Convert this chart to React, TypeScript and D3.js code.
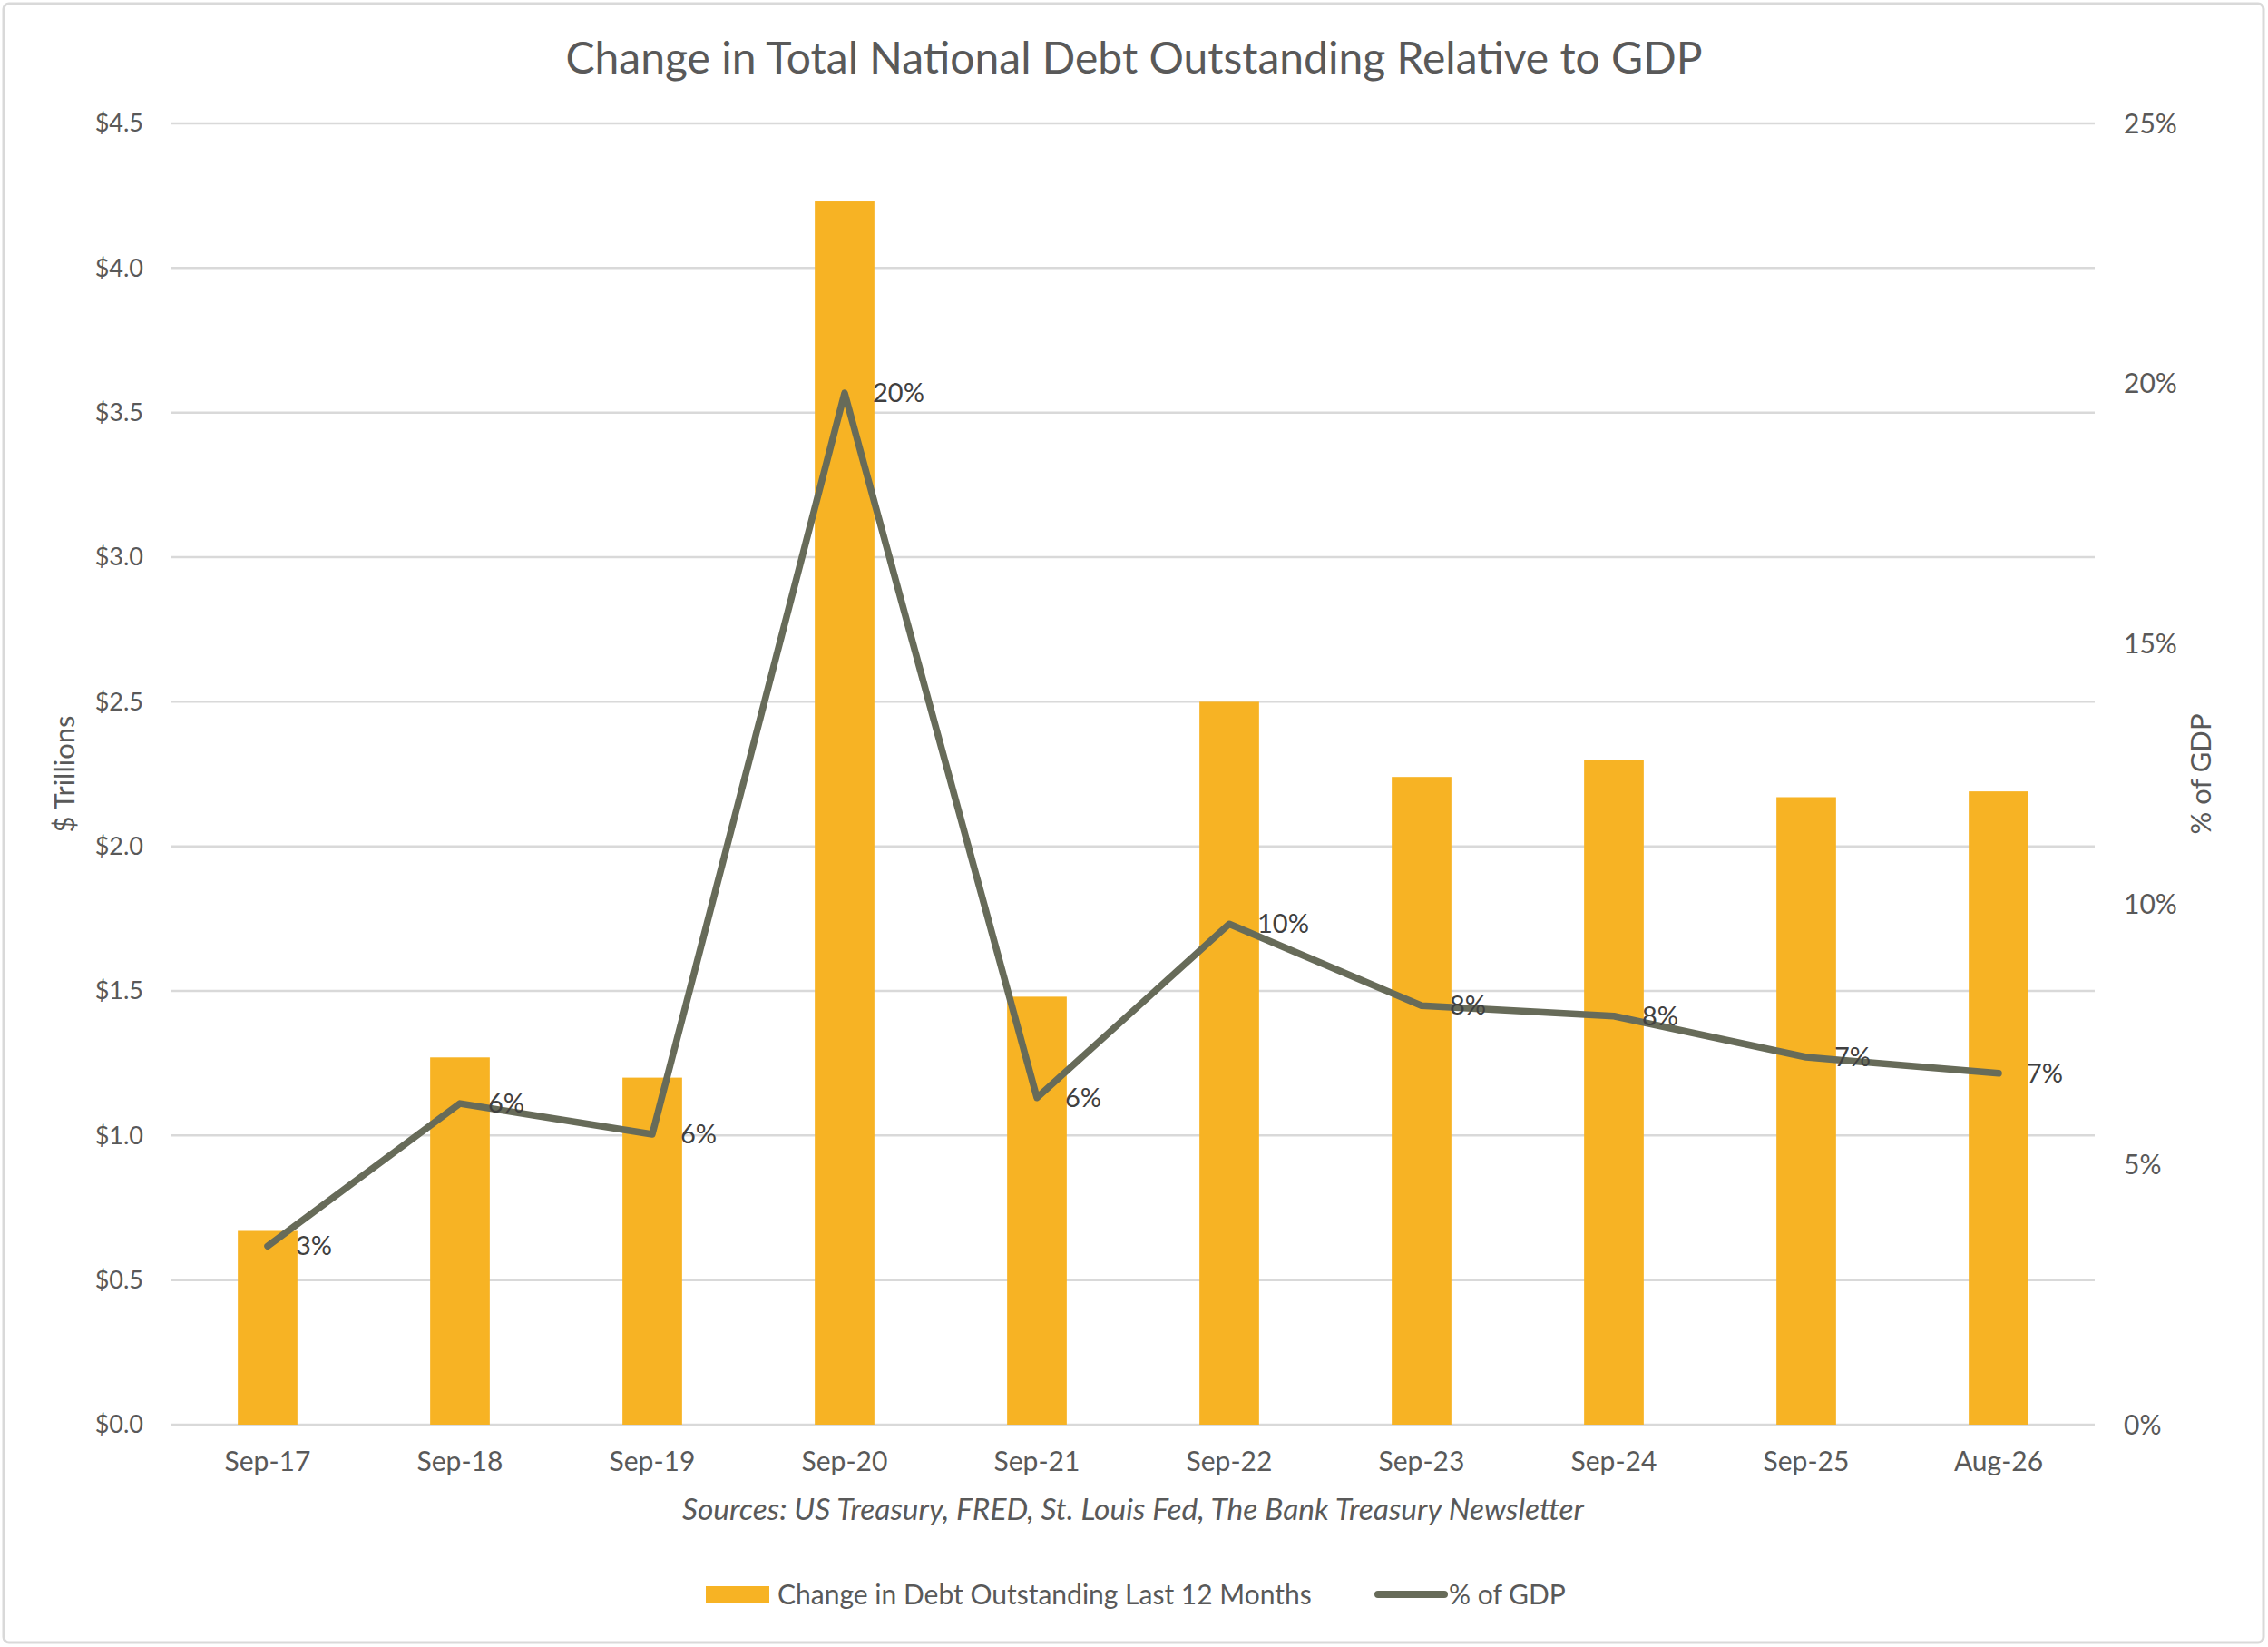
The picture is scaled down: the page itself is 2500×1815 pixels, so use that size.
import * as d3 from "d3";
import { useEffect, useRef } from "react";

const categories = ["Sep-17", "Sep-18", "Sep-19", "Sep-20", "Sep-21", "Sep-22", "Sep-23", "Sep-24", "Sep-25", "Aug-26"];
// change in debt outstanding over the last 12 months, $ trillions
const debtChange = [0.67, 1.27, 1.2, 4.23, 1.48, 2.5, 2.24, 2.3, 2.17, 2.19];
// change as % of GDP
const pctOfGdp = [3.43, 6.17, 5.58, 19.82, 6.28, 9.62, 8.05, 7.85, 7.06, 6.75];
const pctLabels = ["3%", "6%", "6%", "20%", "6%", "10%", "8%", "8%", "7%", "7%"];
const leftTicks = [0, 0.5, 1, 1.5, 2, 2.5, 3, 3.5, 4, 4.5];
const rightTicks = [0, 5, 10, 15, 20, 25];

const W = 2500;
const H = 1815;
const FONT = "Lato, 'Open Sans', sans-serif";
const TEXT = "#595959";
const BAR = "#F7B324";
const LINE = "#676B59";

export default function App() {
	const svgRef = useRef<SVGSVGElement>(null);

	useEffect(() => {
		const svg = d3.select(svgRef.current);
		if (!svg.node()) return;
		svg.selectAll("*").remove();

		const left = 189;
		const right = 2309;
		const top = 136;
		const bottom = 1570;

		const x = d3.scaleBand<string>().domain(categories).range([left, right]).paddingInner(0.69).paddingOuter(0.345);
		const yL = d3.scaleLinear().domain([0, 4.5]).range([bottom, top]);
		const yR = d3.scaleLinear().domain([0, 25]).range([bottom, top]);
		const cx = (c: string) => (x(c) ?? 0) + x.bandwidth() / 2;

		// outer frame
		svg
			.append("rect")
			.attr("x", 4)
			.attr("y", 4)
			.attr("width", W - 9)
			.attr("height", H - 9)
			.attr("rx", 6)
			.attr("fill", "#fff")
			.attr("stroke", "#D9D9D9")
			.attr("stroke-width", 3);

		// title
		svg
			.append("text")
			.attr("x", 1250)
			.attr("y", 81)
			.attr("text-anchor", "middle")
			.attr("fill", TEXT)
			.style("font-size", "48px")
			.text("Change in Total National Debt Outstanding Relative to GDP");

		// gridlines
		svg
			.append("g")
			.selectAll("line")
			.data(leftTicks)
			.join("line")
			.attr("x1", left)
			.attr("x2", right)
			.attr("y1", (d) => yL(d))
			.attr("y2", (d) => yL(d))
			.attr("stroke", "#D9D9D9")
			.attr("stroke-width", 2.5);

		// left ticks
		svg
			.append("g")
			.selectAll("text")
			.data(leftTicks)
			.join("text")
			.attr("x", 158)
			.attr("y", (d) => yL(d))
			.attr("dy", "0.35em")
			.attr("text-anchor", "end")
			.attr("fill", TEXT)
			.style("font-size", "27px")
			.text((d) => "$" + d3.format(".1f")(d));

		// right ticks
		svg
			.append("g")
			.selectAll("text")
			.data(rightTicks)
			.join("text")
			.attr("x", 2341)
			.attr("y", (d) => yR(d))
			.attr("dy", "0.35em")
			.attr("text-anchor", "start")
			.attr("fill", TEXT)
			.style("font-size", "30px")
			.text((d) => d + "%");

		// bars
		svg
			.append("g")
			.selectAll("rect")
			.data(categories)
			.join("rect")
			.attr("x", (d) => x(d) ?? 0)
			.attr("width", x.bandwidth())
			.attr("y", (_, i) => yL(debtChange[i]))
			.attr("height", (_, i) => bottom - yL(debtChange[i]))
			.attr("fill", BAR);

		// x labels
		svg
			.append("g")
			.selectAll("text")
			.data(categories)
			.join("text")
			.attr("x", (d) => cx(d))
			.attr("y", 1621)
			.attr("text-anchor", "middle")
			.attr("fill", TEXT)
			.style("font-size", "30px")
			.text((d) => d);

		// % of GDP line
		const line = d3
			.line<number>()
			.x((_, i) => cx(categories[i]))
			.y((d) => yR(d));
		svg
			.append("path")
			.datum(pctOfGdp)
			.attr("d", line)
			.attr("fill", "none")
			.attr("stroke", LINE)
			.attr("stroke-width", 7.5)
			.attr("stroke-linejoin", "round")
			.attr("stroke-linecap", "round");

		// data labels
		svg
			.append("g")
			.selectAll("text")
			.data(pctOfGdp)
			.join("text")
			.attr("x", (_, i) => cx(categories[i]) + 31)
			.attr("y", (d) => yR(d))
			.attr("dy", "0.35em")
			.attr("fill", "#404040")
			.style("font-size", "29px")
			.text((_, i) => pctLabels[i]);

		// axis titles
		svg
			.append("text")
			.attr("transform", `translate(82,${(top + bottom) / 2}) rotate(-90)`)
			.attr("text-anchor", "middle")
			.attr("fill", TEXT)
			.style("font-size", "31px")
			.text("$ Trillions");
		svg
			.append("text")
			.attr("transform", `translate(2437,${(top + bottom) / 2}) rotate(-90)`)
			.attr("text-anchor", "middle")
			.attr("fill", TEXT)
			.style("font-size", "31px")
			.text("% of GDP");

		// source note
		svg
			.append("text")
			.attr("x", 1249)
			.attr("y", 1675)
			.attr("text-anchor", "middle")
			.attr("fill", TEXT)
			.style("font-size", "33.5px")
			.style("font-style", "italic")
			.text("Sources: US Treasury, FRED, St. Louis Fed, The Bank Treasury Newsletter");

		// legend
		const lg = svg.append("g").attr("transform", "translate(0,1757)");
		lg.append("rect").attr("x", 778).attr("y", -9).attr("width", 70).attr("height", 18).attr("fill", BAR);
		lg.append("text")
			.attr("x", 857)
			.attr("dy", "0.35em")
			.attr("fill", TEXT)
			.style("font-size", "30px")
			.text("Change in Debt Outstanding Last 12 Months");
		lg.append("line")
			.attr("x1", 1519)
			.attr("x2", 1592)
			.attr("stroke", LINE)
			.attr("stroke-width", 8)
			.attr("stroke-linecap", "round");
		lg.append("text")
			.attr("x", 1597)
			.attr("dy", "0.35em")
			.attr("fill", TEXT)
			.style("font-size", "30px")
			.text("% of GDP");
	}, []);

	return (
		<svg
			ref={svgRef}
			width={W}
			height={H}
			style={{ position: "absolute", left: 0, top: 0, fontFamily: FONT, background: "#fff" }}
		/>
	);
}
